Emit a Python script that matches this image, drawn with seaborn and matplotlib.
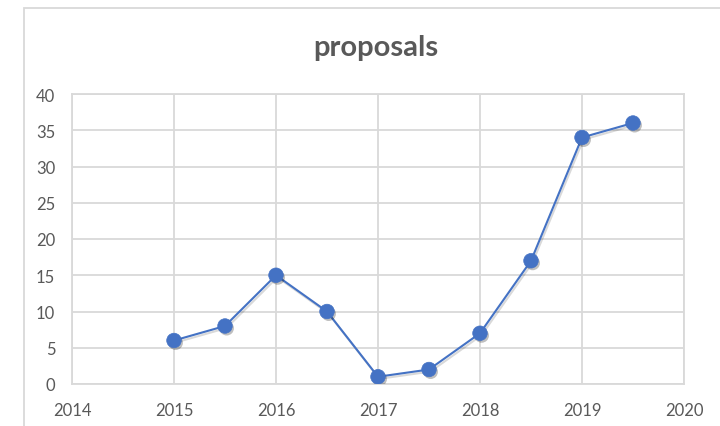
import matplotlib
matplotlib.use("Agg")
import matplotlib.pyplot as plt
import matplotlib.patheffects as pe
from matplotlib.patches import Rectangle
import seaborn as sns
import pandas as pd

years = [2015, 2015.5, 2016, 2016.5, 2017, 2017.5, 2018, 2018.5, 2019, 2019.5]
proposals = [6, 8, 15, 10, 1, 2, 7, 17, 34, 36]
x_ticks = [2014, 2015, 2016, 2017, 2018, 2019, 2020]
y_ticks = [0, 5, 10, 15, 20, 25, 30, 35, 40]

df = pd.DataFrame({"year": years, "proposals": proposals})

sns.set_theme(style="white")
plt.rcParams["font.family"] = ["Lato", "DejaVu Sans"]

grid_col = "#d9d9d9"
text_col = "#595959"
blue = "#4472c4"

fig = plt.figure(figsize=(7.2, 4.27), dpi=100)
fig.patch.set_facecolor("white")

# chart frame
fig.patches.append(Rectangle((24 / 720, -0.1), 1.0, 1 - 9 / 427 + 0.1,
                             transform=fig.transFigure, fill=False,
                             edgecolor=grid_col, linewidth=1.3, zorder=0))

ax = fig.add_axes([72 / 720, 1 - 385 / 427, (684 - 72) / 720, (385 - 95) / 427])

# connecting line
sns.lineplot(data=df, x="year", y="proposals", ax=ax, color=blue,
             linewidth=1.5, zorder=3,
             path_effects=[pe.SimpleLineShadow(offset=(1, -1.5), alpha=0.15,
                                               shadow_color="black"),
                           pe.Normal()])
# point markers with a soft drop shadow
sns.scatterplot(data=df, x="year", y="proposals", ax=ax, color=blue,
                s=110, edgecolor=blue, linewidth=0.5, zorder=4,
                path_effects=[pe.SimplePatchShadow(offset=(1.2, -1.6), alpha=0.25,
                                                   shadow_rgbFace="black"),
                              pe.Normal()])

ax.set_xlim(2014, 2020)
ax.set_ylim(0, 40)
ax.set_xticks(x_ticks)
ax.set_yticks(y_ticks)
ax.set_xticklabels([str(t) for t in x_ticks])
ax.set_yticklabels([str(t) for t in y_ticks])
ax.grid(True, color=grid_col, linewidth=1.3)
ax.set_axisbelow(True)
for s in ax.spines.values():
    s.set_visible(True)
    s.set_color(grid_col)
    s.set_linewidth(1.3)
ax.tick_params(axis="both", length=0, labelsize=12, colors=text_col)
ax.tick_params(axis="y", pad=12)
ax.tick_params(axis="x", pad=13)
ax.set_xlabel("")
ax.set_ylabel("")

fig.text(376 / 720, 1 - 48 / 427, "proposals", ha="center", va="center",
         fontsize=21, fontweight="bold", color=text_col)

fig.savefig("out.png", dpi=100)
